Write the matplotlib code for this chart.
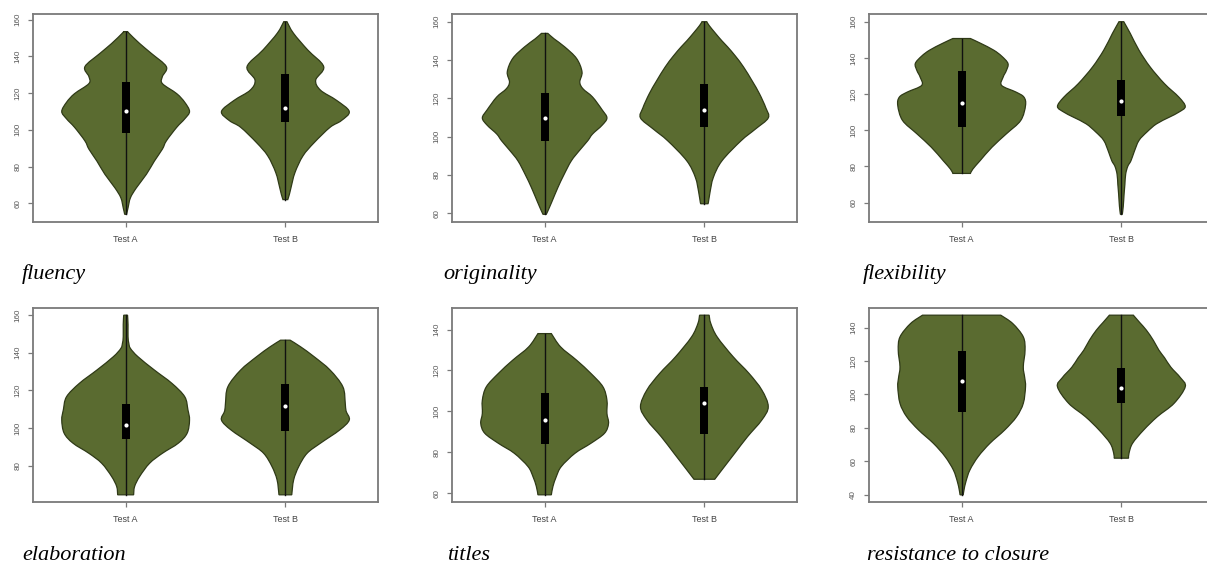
import numpy as np
from matplotlib import pyplot as plt
from matplotlib.path import Path
from matplotlib.patches import PathPatch

# panel names, in reading order
panels = ["fluency", "originality", "flexibility",
          "elaboration", "titles", "resistance to closure"]
groups = ["Test A", "Test B"]

# violin outlines: value levels and half widths
fluency_a_y = [54, 57.5, 63, 68.4, 75.8, 83, 89.5, 94, 101.4, 106, 110, 115, 119.7, 125.2, 129, 134.4, 141.7, 147, 152.7, 153.5]
fluency_a_w = [.006, .015, .03, .067, .13, .18, .23, .255, .32, .37, .40, .37, .32, .23, .23, .255, .16, .088, .02, .015]
fluency_b_y = [62, 64.8, 68.4, 76.7, 85.8, 93, 101.4, 105, 110, 116.1, 121.6, 127.1, 134.4, 143.5, 152.7, 158.9]
fluency_b_w = [.015, .025, .035, .06, .11, .18, .28, .35, .40, .32, .22, .19, .24, .14, .05, .01]

originality_a_y = [59.5, 61.2, 66, 73.5, 80, 87.4, 93, 97.9, 101.4, 106, 109.8, 114, 120.7, 125, 128.5, 133.8, 140.8, 146.9, 151, 153.9]
originality_a_w = [.01, .02, .045, .083, .12, .167, .22, .27, .30, .36, .39, .36, .30, .24, .22, .234, .20, .125, .06, .02]
originality_b_y = [65, 65.6, 70.8, 78.7, 87.4, 97.9, 104, 109.8, 115, 122.4, 129, 136.4, 142, 146.9, 150, 153.9, 158, 160]
originality_b_w = [.02, .025, .035, .056, .11, .23, .32, .40, .385, .345, .30, .245, .195, .145, .11, .07, .03, .015]

flexibility_a_y = [76.1, 78.5, 83.1, 90.6, 98, 105.4, 113.7, 118.3, 121.1, 124.8, 129.4, 133, 136.9, 141, 144.3, 148, 150.7]
flexibility_a_w = [.055, .07, .115, .19, .28, .37, .40, .39, .34, .25, .26, .28, .29, .25, .20, .12, .055]
flexibility_b_y = [53.5, 58, 64.6, 70, 75.7, 80, 83.1, 88, 94.3, 99, 103.5, 107.2, 110, 113.1, 118.3, 125.7, 135, 144.3, 153.5, 160]
flexibility_b_w = [.006, .012, .017, .022, .027, .04, .06, .08, .11, .16, .22, .30, .36, .40, .36, .27, .18, .11, .056, .015]

elaboration_a_y = [64.4, 68.8, 74.2, 81.2, 86.5, 91.9, 97.2, 104.2, 109.6, 116.6, 123.7, 130.8, 137.9, 142.3, 145, 148.5, 155, 160]
elaboration_a_w = [.05, .056, .088, .15, .23, .33, .385, .40, .39, .37, .29, .18, .077, .03, .02, .015, .015, .012]
elaboration_b_y = [64.4, 72.4, 79.5, 86.5, 91.9, 98.9, 104.2, 109, 113.1, 121.9, 130.8, 137.9, 143.2, 146.7]
elaboration_b_w = [.04, .052, .084, .136, .22, .34, .40, .38, .375, .36, .28, .18, .095, .03]

titles_a_y = [59.2, 63.3, 68.1, 73, 79.5, 84.4, 89.3, 94.1, 99, 105.5, 112, 118.5, 125, 131.5, 138]
titles_a_w = [.042, .052, .073, .104, .19, .29, .375, .40, .39, .39, .365, .29, .20, .10, .042]
titles_b_y = [66.8, 71.4, 79.5, 87.6, 95.8, 102.3, 110.4, 118.5, 126.7, 136.4, 143, 147]
titles_b_w = [.065, .11, .19, .27, .36, .40, .36, .28, .18, .08, .04, .03]

closure_a_y = [40, 43, 48, 54.9, 62.9, 70.8, 78.8, 86.7, 94.7, 104.6, 110, 116.5, 126.5, 134.4, 142.4, 147.4]
closure_a_w = [.01, .015, .027, .052, .104, .177, .27, .344, .386, .40, .395, .386, .397, .386, .32, .245]
closure_b_y = [61.9, 64.9, 70.8, 78.8, 86.7, 94.7, 104.6, 110, 116.3, 122, 126.5, 132.4, 138.4, 143, 147.4]
closure_b_w = [.045, .048, .07, .14, .225, .33, .40, .37, .31, .27, .235, .20, .157, .115, .075]

# box stats: q1, median, q3
fluency_box = [[98.1, 110, 126.1], [104, 112, 130.3]]
originality_box = [[97.9, 109.8, 122.8], [104.9, 114, 127.7]]
flexibility_box = [[101.7, 115, 132.8], [107.6, 116, 127.6]]
elaboration_box = [[94.3, 101.6, 112.7], [98.4, 111.5, 123.4]]
titles_box = [[83.9, 95.8, 108.8], [88.9, 103.9, 112]]
closure_box = [[89.7, 108.2, 126.1], [95.1, 104, 116.1]]

shapes = [
    [(fluency_a_y, fluency_a_w), (fluency_b_y, fluency_b_w)],
    [(originality_a_y, originality_a_w), (originality_b_y, originality_b_w)],
    [(flexibility_a_y, flexibility_a_w), (flexibility_b_y, flexibility_b_w)],
    [(elaboration_a_y, elaboration_a_w), (elaboration_b_y, elaboration_b_w)],
    [(titles_a_y, titles_a_w), (titles_b_y, titles_b_w)],
    [(closure_a_y, closure_a_w), (closure_b_y, closure_b_w)],
]
boxes = [fluency_box, originality_box, flexibility_box,
         elaboration_box, titles_box, closure_box]

W, H = 1207, 565
# axes boxes in pixels: left, top, right, bottom
rects = [(33, 14, 378, 222), (452, 14, 797, 222), (869, 14, 1214, 222),
         (33, 308, 378, 502), (452, 308, 797, 502), (869, 308, 1214, 502)]
label_pos = [(22, 279), (443, 279), (863, 279),
             (22, 560), (447, 560), (867, 560)]

fill_col = '#5a6b30'
edge_col = '#2f3a17'
axis_col = '#7a7a7a'


def smooth_side(pts):
    # catmull-rom through the read points, written as cubic bezier segments
    p = np.vstack([pts[0], pts, pts[-1]])
    verts, codes = [], []
    for k in range(1, len(p) - 2):
        c1 = p[k] + (p[k + 1] - p[k - 1]) / 6
        c2 = p[k + 1] - (p[k + 2] - p[k]) / 6
        verts += [c1, c2, p[k + 1]]
        codes += [Path.CURVE4] * 3
    return verts, codes


def violin_path(x, ys, ws):
    ys = np.array(ys, float)
    ws = np.array(ws, float)
    right = np.column_stack([x + ws, ys])
    left = np.column_stack([x - ws, ys])[::-1]
    verts = [left[-1], right[0]]
    codes = [Path.MOVETO, Path.LINETO]
    v, c = smooth_side(right)
    verts += v
    codes += c
    verts.append(left[0])
    codes.append(Path.LINETO)
    v, c = smooth_side(left)
    verts += v
    codes += c
    verts.append(left[-1])
    codes.append(Path.CLOSEPOLY)
    return Path(np.array(verts), codes)


fig = plt.figure(figsize=(W/100, H/100), dpi=100)

for i, name in enumerate(panels):
    l, t, r, b = rects[i]
    ax = fig.add_axes([l/W, 1 - b/H, (r - l)/W, (b - t)/H])
    lo = min(min(s[0]) for s in shapes[i])
    hi = max(max(s[0]) for s in shapes[i])
    pad = 0.04*(hi - lo)
    for j, (ys, ws) in enumerate(shapes[i]):
        x = j + 1
        ax.add_patch(PathPatch(violin_path(x, ys, ws), facecolor=fill_col,
                               edgecolor=edge_col, lw=0.9, zorder=2))
        ax.plot([x, x], [ys[0], ys[-1]], color='#111111', lw=1, zorder=3)
        q1, med, q3 = boxes[i][j]
        ax.bar(x, q3 - q1, bottom=q1, width=0.05, color='black', zorder=4)
        ax.scatter([x], [med], s=9, color='white', zorder=5, lw=0)
    ax.set_xlim(0.42, 2.58)
    ax.set_xticks([1, 2])
    ax.set_xticklabels(groups, fontsize=6.5, color='#444444',
                       family='Liberation Sans')
    ax.set_yticks(range(40, 161, 20))
    ax.set_ylim(lo - pad, hi + pad)
    for lab in ax.get_yticklabels():
        lab.set_rotation(90)
        lab.set_va('center')
        lab.set_fontsize(5.8)
        lab.set_color('#555555')
        lab.set_family('Liberation Sans')
    ax.tick_params(axis='x', length=3.5, width=0.9, color=axis_col, pad=6)
    ax.tick_params(axis='y', length=3.5, width=0.9, color=axis_col, pad=5)
    for sp in ax.spines.values():
        sp.set_color(axis_col)
        sp.set_linewidth(1.3)
    lx, ly = label_pos[i]
    fig.text(lx/W, 1 - ly/H, name, fontsize=16, style='italic',
             family='Liberation Serif', va='baseline', ha='left')

fig.savefig('out.png', dpi=100)
